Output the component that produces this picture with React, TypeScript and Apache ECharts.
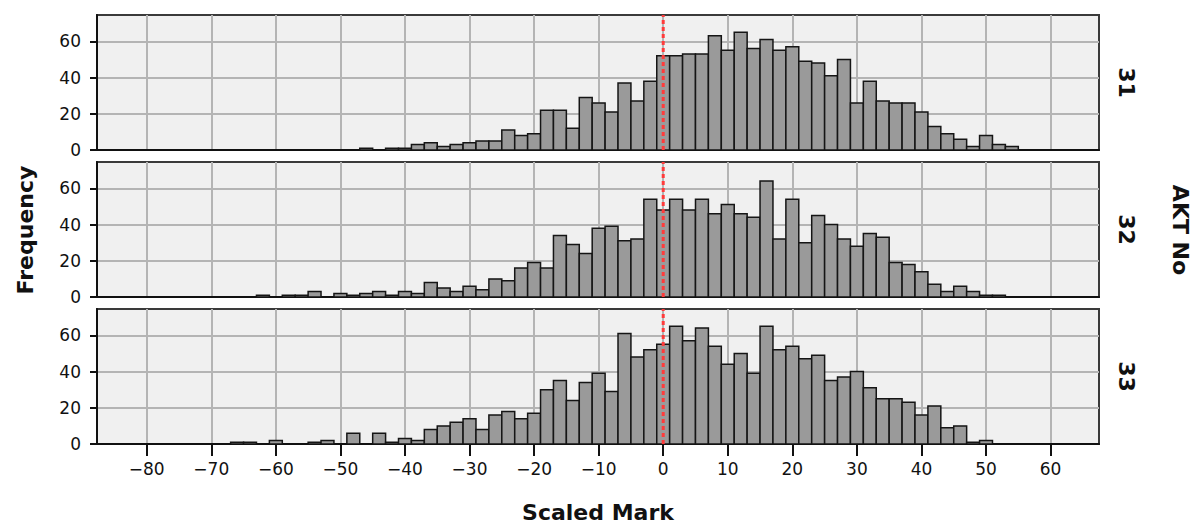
import React, { useEffect, useRef } from "react";
import * as echarts from "echarts";

const binCenters = [
  -66, -64, -62, -60, -58, -56, -54, -52, -50, -48, -46, -44, -42, -40, -38, -36, -34, -32, -30, -28,
  -26, -24, -22, -20, -18, -16, -14, -12, -10, -8, -6, -4, -2, 0, 2, 4, 6, 8, 10, 12, 14, 16, 18, 20,
  22, 24, 26, 28, 30, 32, 34, 36, 38, 40, 42, 44, 46, 48, 50, 52, 54,
];

const counts31 = [
  0, 0, 0, 0, 0, 0, 0, 0, 0, 0, 1, 0, 1, 1, 3, 4, 2, 3, 4, 5,
  5, 11, 8, 9, 22, 22, 12, 29, 26, 21, 37, 27, 38, 52, 52, 53, 53, 63, 55, 65, 56, 61, 55, 57,
  49, 48, 41, 50, 26, 38, 27, 26, 26, 21, 13, 9, 6, 2, 8, 3, 2,
];

const counts32 = [
  0, 0, 1, 0, 1, 1, 3, 0, 2, 1, 2, 3, 1, 3, 2, 8, 5, 3, 6, 4,
  10, 9, 16, 19, 16, 34, 29, 24, 38, 39, 31, 32, 54, 48, 54, 48, 54, 46, 51, 46, 44, 64, 32, 54,
  30, 45, 40, 32, 28, 35, 33, 19, 18, 14, 7, 3, 6, 3, 1, 1, 0,
];

const counts33 = [
  1, 1, 0, 2, 0, 0, 1, 2, 0, 6, 0, 6, 1, 3, 2, 8, 10, 12, 14, 8,
  16, 18, 14, 17, 30, 35, 24, 34, 39, 29, 61, 48, 52, 55, 65, 57, 64, 54, 44, 50, 39, 65, 52, 54,
  47, 49, 35, 37, 40, 31, 25, 25, 23, 16, 21, 9, 10, 1, 2, 0, 0,
];

const panelNames = ["31", "32", "33"];
const panelCounts = [counts31, counts32, counts33];
const xTicks = [-80, -70, -60, -50, -40, -30, -20, -10, 0, 10, 20, 30, 40, 50, 60];
const yTicks = [0, 20, 40, 60];
const referenceLine = 0;
const binWidth = 2;

const X_MIN = -87.7;
const X_MAX = 67.5;
const Y_MAX = 74.5;
const FONT = "DejaVu Sans";
const panelTops = [15, 162, 309];
const panelHeight = 135;

export default function App() {
  const ref = useRef<HTMLDivElement>(null);
  useEffect(() => {
    if (!ref.current) return;
    const chart = echarts.init(ref.current, null, { renderer: "svg" });
    const grids: any[] = [];
    const xAxes: any[] = [];
    const yAxes: any[] = [];
    const series: any[] = [];
    const graphics: any[] = [];
    panelCounts.forEach((counts, i) => {
      grids.push({
        left: 97,
        right: 97,
        top: panelTops[i],
        height: panelHeight,
        show: true,
        backgroundColor: "#f0f0f0",
        borderColor: "#3a3a3a",
        borderWidth: 2,
      });
      const isBottom = i === panelCounts.length - 1;
      xAxes.push({
        type: "value",
        gridIndex: i,
        min: X_MIN,
        max: X_MAX,
        axisLine: { show: true, onZero: false, lineStyle: { color: "#111", width: 2 } },
        axisTick: {
          show: isBottom,
          customValues: xTicks,
          length: 12,
          lineStyle: { color: "#111", width: 2 },
        },
        axisLabel: {
          show: isBottom,
          customValues: xTicks,
          margin: 16,
          fontSize: 17,
          fontFamily: FONT,
          color: "#111",
          formatter: (v: number) => (v < 0 ? "\u2212" + Math.abs(v) : String(v)),
        },
        splitLine: { show: true, lineStyle: { color: "#b4b4b4", width: 2 } },
      });
      yAxes.push({
        type: "value",
        gridIndex: i,
        min: 0,
        max: Y_MAX,
        axisLine: { show: true, onZero: false, lineStyle: { color: "#111", width: 2 } },
        axisTick: { show: true, customValues: yTicks, length: 7, lineStyle: { color: "#111", width: 2 } },
        axisLabel: {
          customValues: yTicks,
          margin: 16,
          fontSize: 17,
          fontFamily: FONT,
          color: "#111",
        },
        splitLine: { show: true, lineStyle: { color: "#b4b4b4", width: 2 } },
      });
      series.push({
        type: "custom",
        xAxisIndex: i,
        yAxisIndex: i,
        encode: { x: 0, y: 1 },
        data: binCenters.map((c, k) => [c, counts[k]]),
        renderItem: (params: any, api: any) => {
          const x = api.value(0);
          const y = api.value(1);
          if (!y) return { type: "group", children: [] };
          const p1 = api.coord([x - binWidth / 2, y]);
          const p2 = api.coord([x + binWidth / 2, 0]);
          return {
            type: "rect",
            shape: { x: p1[0], y: p1[1], width: p2[0] - p1[0], height: p2[1] - p1[1] },
            style: { fill: "#9a9a9a", stroke: "#151515", lineWidth: 1.5 },
          };
        },
        z: 3,
      });
      series.push({
        type: "line",
        xAxisIndex: i,
        yAxisIndex: i,
        data: [
          [referenceLine, 0],
          [referenceLine, Y_MAX],
        ],
        symbol: "none",
        lineStyle: { color: "#ff3b3b", width: 3, type: [4, 3] },
        z: 5,
      });
      graphics.push({
        type: "text",
        x: 1126,
        y: panelTops[i] + panelHeight / 2,
        rotation: -Math.PI / 2,
        style: {
          text: panelNames[i],
          font: `bold 22px "${FONT}"`,
          fill: "#111",
          align: "center",
          verticalAlign: "middle",
        },
      });
    });
    graphics.push({
      type: "text",
      x: 1180,
      y: 230,
      rotation: -Math.PI / 2,
      style: {
        text: "AKT No",
        font: `bold 22px "${FONT}"`,
        fill: "#111",
        align: "center",
        verticalAlign: "middle",
      },
    });
    graphics.push({
      type: "text",
      x: 25,
      y: 230,
      rotation: Math.PI / 2,
      style: {
        text: "Frequency",
        font: `bold 22px "${FONT}"`,
        fill: "#111",
        align: "center",
        verticalAlign: "middle",
      },
    });
    graphics.push({
      type: "text",
      x: 598,
      y: 512,
      style: {
        text: "Scaled Mark",
        font: `bold 22px "${FONT}"`,
        fill: "#111",
        align: "center",
        verticalAlign: "middle",
      },
    });
    chart.setOption({
      animation: false,
      backgroundColor: "#ffffff",
      grid: grids,
      xAxis: xAxes,
      yAxis: yAxes,
      series,
      graphic: graphics,
    });
    return () => chart.dispose();
  }, []);
  return (
    <div
      ref={ref}
      style={{ position: "absolute", left: 0, top: 0, width: 1196, height: 527 }}
    />
  );
}
